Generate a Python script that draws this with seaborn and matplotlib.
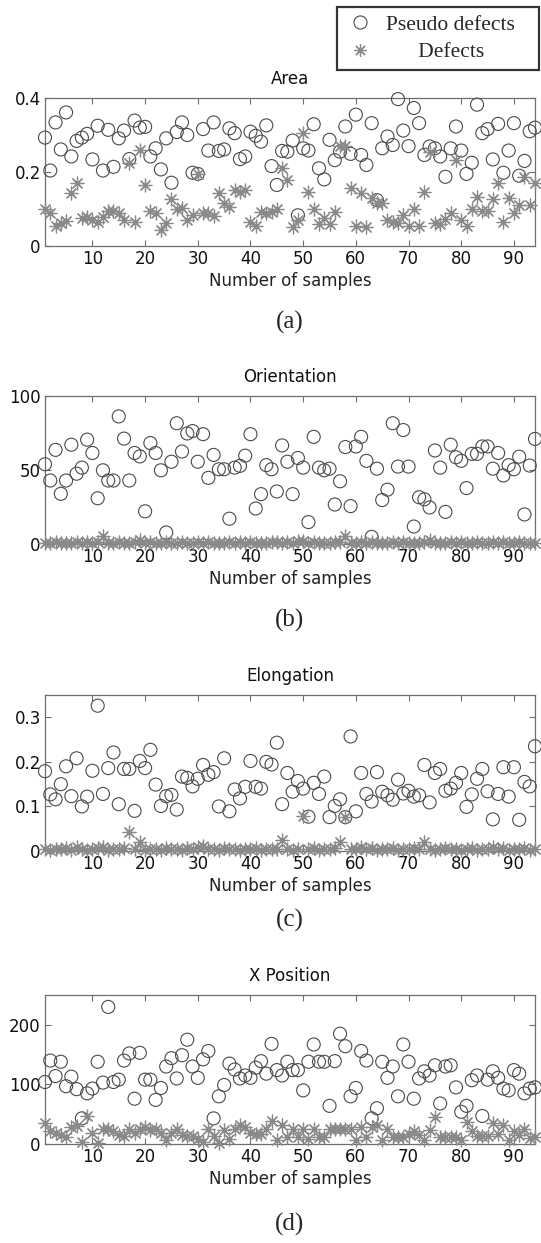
import matplotlib
matplotlib.use("Agg")
import matplotlib.pyplot as plt
import numpy as np
import pandas as pd
import seaborn as sns
from matplotlib.lines import Line2D
from matplotlib.font_manager import FontProperties

# ---------------- data ----------------
samples = list(range(1, 95))

area_pseudo = [.293, .204, .334, .261, .361, .242, .284, .293, .303, .234,
               .325, .204, .314, .214, .291, .312, .235, .339, .320, .322,
               .242, .264, .207, .291, .171, .308, .334, .300, .198, .195,
               .316, .258, .334, .257, .261, .318, .305, .235, .242, .309,
               .298, .282, .326, .216, .165, .257, .255, .285, .083, .264,
               .258, .329, .210, .180, .287, .232, .255, .323, .249, .355,
               .246, .219, .332, .124, .264, .296, .273, .397, .312, .270,
               .373, .332, .246, .269, .264, .242, .187, .264, .323, .258,
               .195, .225, .382, .305, .316, .234, .330, .198, .258, .332,
               .190, .230, .310, .320]
area_defect = [.101, .088, .055, .062, .068, .144, .169, .076, .079, .070,
               .065, .079, .094, .094, .088, .070, .225, .065, .260, .165,
               .094, .088, .043, .061, .128, .101, .103, .070, .083, .195,
               .090, .090, .081, .142, .115, .106, .151, .147, .151, .065,
               .053, .092, .090, .092, .099, .210, .178, .052, .070, .305,
               .147, .101, .059, .077, .059, .092, .270, .270, .156, .053,
               .142, .052, .131, .115, .117, .070, .065, .061, .083, .054,
               .101, .054, .147, .255, .061, .059, .074, .088, .232, .071,
               .054, .099, .133, .095, .094, .128, .170, .064, .131, .090,
               .110, .187, .110, .171]

orient_pseudo = [53.9, 42.9, 63.6, 33.9, 42.9, 67.1, 47.5, 51.6, 70.5, 61.5,
                 30.9, 49.8, 42.9, 42.9, 86.2, 71.2, 42.9, 61.5, 59.2, 22.1,
                 68.2, 61.5, 49.8, 7.8, 55.6, 81.6, 62.5, 74.7, 76.3, 55.6,
                 74.2, 44.7, 60.2, 50.5, 50.5, 17.1, 51.6, 52.8, 59.7, 74.2,
                 24.0, 33.7, 53.3, 50.5, 35.5, 66.6, 55.6, 33.7, 58.1, 51.6,
                 14.8, 72.4, 51.6, 49.8, 50.9, 26.7, 42.4, 65.5, 25.6, 65.9,
                 72.4, 56.2, 4.8, 50.9, 29.7, 36.7, 81.6, 52.3, 77.0, 52.3,
                 11.8, 31.6, 30.2, 24.7, 63.2, 51.6, 21.7, 67.1, 58.6, 56.2,
                 37.8, 60.9, 60.9, 65.9, 65.9, 50.9, 61.5, 46.3, 53.3, 50.5,
                 59.0, 20.0, 53.0, 71.0]
orient_defect = [1.0, 0.8, 1.2, 0.6, 1.0, 0.9, 1.3, 0.7, 1.1, 0.8,
                 1.5, 5.5, 1.0, 0.6, 1.2, 0.9, 0.7, 1.4, 3.0, 0.8,
                 1.1, 0.6, 1.0, 1.3, 0.9, 0.7, 1.2, 1.0, 0.8, 1.1,
                 0.6, 1.4, 0.9, 1.0, 0.7, 1.2, 0.8, 1.1, 0.9, 1.3,
                 0.6, 1.0, 0.8, 1.2, 1.6, 0.9, 1.1, 0.7, 2.0, 2.2,
                 0.8, 1.2, 0.6, 1.0, 0.9, 1.3, 1.5, 5.5, 1.0, 0.8,
                 1.1, 0.7, 1.2, 0.9, 1.0, 0.6, 1.3, 0.8, 1.1, 0.9,
                 1.0, 0.7, 1.2, 2.5, 0.8, 1.0, 0.9, 1.3, 0.7, 1.1,
                 0.8, 1.0, 1.2, 0.6, 0.9, 1.1, 0.8, 1.3, 1.0, 0.7,
                 1.2, 0.9, 1.0, 0.8]

elong_pseudo = [.179, .127, .116, .150, .190, .123, .208, .100, .122, .180,
                .326, .128, .186, .221, .105, .184, .184, .090, .202, .186,
                .227, .149, .101, .123, .126, .093, .167, .164, .145, .162,
                .193, .171, .177, .100, .208, .089, .138, .118, .144, .202,
                .144, .140, .200, .194, .243, .105, .175, .133, .157, .140,
                .077, .153, .128, .167, .076, .101, .116, .076, .257, .089,
                .175, .128, .111, .177, .133, .125, .115, .160, .129, .135,
                .122, .125, .193, .109, .175, .184, .135, .140, .153, .175,
                .099, .127, .162, .184, .134, .071, .128, .188, .122, .188,
                .070, .155, .145, .235]
elong_defect = [.004, .003, .005, .004, .006, .003, .008, .005, .003, .004,
                .006, .008, .003, .005, .004, .007, .042, .004, .020, .003,
                .005, .004, .003, .006, .004, .005, .003, .006, .004, .008,
                .012, .005, .004, .003, .006, .004, .005, .003, .004, .005,
                .006, .003, .004, .005, .004, .025, .004, .003, .005, .078,
                .004, .006, .003, .005, .004, .006, .020, .076, .004, .005,
                .010, .004, .006, .003, .005, .004, .006, .003, .005, .004,
                .006, .004, .020, .005, .003, .004, .006, .004, .005, .003,
                .004, .006, .003, .005, .004, .008, .004, .006, .003, .005,
                .004, .006, .003, .005]

xpos_pseudo = [104, 140, 114, 138, 97, 113, 92, 43, 85, 93,
               138, 103, 230, 104, 108, 140, 152, 76, 153, 108,
               108, 74, 94, 130, 144, 110, 149, 175, 130, 111,
               142, 156, 43, 80, 99, 135, 125, 110, 115, 111,
               128, 139, 118, 168, 124, 115, 138, 124, 124, 90,
               138, 167, 138, 138, 64, 139, 185, 164, 80, 94,
               156, 140, 43, 60, 138, 111, 130, 80, 167, 138,
               76, 110, 122, 115, 132, 68, 130, 132, 95, 54,
               64, 107, 115, 47, 108, 122, 111, 93, 90, 124,
               118, 85, 93, 95]
xpos_defect = [36, 21, 19, 15, 11, 28, 30, 4, 47, 18,
               1, 25, 26, 22, 15, 14, 25, 18, 25, 28,
               23, 26, 19, 6, 18, 26, 15, 13, 14, 8,
               4, 26, 14, 2, 23, 8, 25, 32, 29, 18,
               17, 17, 25, 38, 7, 32, 12, 26, 12, 26,
               9, 26, 12, 12, 26, 26, 25, 26, 26, 7,
               29, 12, 29, 32, 7, 26, 12, 12, 12, 17,
               21, 15, 7, 23, 45, 12, 12, 12, 12, 7,
               37, 21, 14, 14, 14, 36, 17, 32, 7, 21,
               15, 25, 10, 12]

titles = ["Area", "Orientation", "Elongation", "X Position"]
panel_labels = ["(a)", "(b)", "(c)", "(d)"]
x_ticks = [10, 20, 30, 40, 50, 60, 70, 80, 90]
y_ticks = [[0, 0.2, 0.4], [0, 50, 100], [0, 0.1, 0.2, 0.3], [0, 100, 200]]
y_tick_labels = [["0", "0.2", "0.4"], ["0", "50", "100"],
                 ["0", "0.1", "0.2", "0.3"], ["0", "100", "200"]]
y_limits = [(0, 0.4), (0, 100), (0, 0.35), (0, 250)]
series_names = ["Pseudo defects", "Defects"]

# ---------------- style ----------------
sns.set_style("ticks")
plt.rcParams["font.family"] = ["DejaVu Sans"]

W, H = 541, 1243
fig = plt.figure(figsize=(W / 100, H / 100), dpi=100)

# axes boxes in pixel coords: (top, bottom)
boxes = [(98, 246), (396, 544), (695, 851), (995, 1144)]
left_px, right_px = 45, 535
label_y = [322, 620, 920, 1224]

circle_col = "#4a4a4a"
star_col = "#8a8a8a"
spine_col = "#6e6e6e"

pseudo_sets = [area_pseudo, orient_pseudo, elong_pseudo, xpos_pseudo]
defect_sets = [area_defect, orient_defect, elong_defect, xpos_defect]

for i in range(4):
    top, bot = boxes[i]
    ax = fig.add_axes([left_px / W, 1 - bot / H, (right_px - left_px) / W, (bot - top) / H])
    df = pd.DataFrame({"sample": samples, "pseudo": pseudo_sets[i], "defect": defect_sets[i]})
    sns.scatterplot(data=df, x="sample", y="pseudo", ax=ax, marker="o", s=88,
                    color=circle_col, facecolors="none", edgecolor=circle_col,
                    linewidth=0.8, clip_on=False, zorder=3)
    sns.scatterplot(data=df, x="sample", y="defect", ax=ax, marker=(8, 2, 0), s=85,
                    color=star_col, linewidth=0.9, clip_on=False, zorder=3)
    ax.set_xlim(1, 94)
    ax.set_ylim(*y_limits[i])
    ax.set_xticks(x_ticks)
    ax.set_xticklabels([str(t) for t in x_ticks])
    ax.set_yticks(y_ticks[i])
    ax.set_yticklabels(y_tick_labels[i])
    ax.tick_params(direction="in", top=True, right=True, length=4, width=0.8,
                   color=spine_col, labelsize=12, pad=3, labelcolor="#111111")
    for sp in ax.spines.values():
        sp.set_visible(True)
        sp.set_color(spine_col)
        sp.set_linewidth(0.9)
    ax.set_title(titles[i], fontsize=12, pad=10, color="#111111")
    ax.set_xlabel("Number of samples", fontsize=12, labelpad=3, color="#222222")
    ax.set_ylabel("")
    ax.grid(False)
    if ax.get_legend() is not None:
        ax.get_legend().remove()
    fig.text((left_px + right_px) / 2 / W, 1 - label_y[i] / H, panel_labels[i],
             ha="center", va="center", fontsize=18, family="Liberation Serif")

handles = [Line2D([], [], marker="o", ls="none", mfc="none", mec=circle_col, mew=0.8, ms=9.4),
           Line2D([], [], marker=(8, 2, 0), ls="none", color=star_col, mew=0.9, ms=9.2)]
leg = fig.legend(handles, [series_names[0] + "   ", "      " + series_names[1]],
                 loc="upper right", bbox_to_anchor=(539 / W, 1 - 7 / H),
                 frameon=True, fancybox=False, edgecolor="black",
                 prop=FontProperties(family="Liberation Serif", size=15.5),
                 handletextpad=0.55, borderpad=0.35, labelspacing=0.35,
                 handlelength=1.4, borderaxespad=0)
leg.get_frame().set_linewidth(1.6)

fig.savefig("out.png", dpi=100)
